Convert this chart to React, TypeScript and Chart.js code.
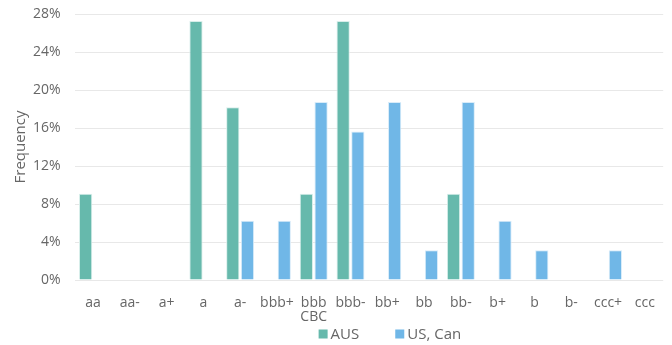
import React, { useEffect, useRef } from "react";
import { Chart, registerables } from "chart.js";

Chart.register(...registerables);

// Rating buckets along the x axis
const ratings: (string | string[])[] = [
  "aa", "aa-", "a+", "a", "a-", "bbb+", ["bbb", "CBC"], "bbb-",
  "bb+", "bb", "bb-", "b+", "b", "b-", "ccc+", "ccc",
];

// Share of issuers in each bucket (%)
const ausShare = [9.09, 0, 0, 27.27, 18.18, 0, 9.09, 27.27, 0, 0, 9.09, 0, 0, 0, 0, 0];
const usCanShare = [0, 0, 0, 0, 6.25, 6.25, 18.75, 15.625, 18.75, 3.125, 18.75, 6.25, 3.125, 0, 3.125, 0];

const seriesNames = ["AUS", "US, Can"];
const seriesColors = ["#66b9ac", "#70b7e7"];
const seriesBorders = ["#d8eeea", "#d9ecf9"];
const yTicks = [0, 4, 8, 12, 16, 20, 24, 28];

const FONT = "'Open Sans', sans-serif";

// Legend drawn under the axis labels, with wide spacing between entries
const bottomLegend = {
  id: "bottomLegend",
  afterDraw(chart: any) {
    const ctx = chart.ctx;
    const box = 9;
    const gap = 3;
    const spacing = 36;
    ctx.save();
    ctx.font = `15px ${FONT}`;
    ctx.textBaseline = "middle";
    const widths = seriesNames.map((n) => box + gap + ctx.measureText(n).width);
    const total = widths.reduce((a, b) => a + b, 0) + spacing * (widths.length - 1);
    const centerX = (chart.chartArea.left + chart.chartArea.right) / 2 + 21;
    const y = chart.height - 11;
    let x = centerX - total / 2;
    seriesNames.forEach((name, i) => {
      ctx.fillStyle = seriesColors[i];
      ctx.fillRect(x, y - box / 2, box, box);
      ctx.fillStyle = "#666";
      ctx.fillText(name, x + box + gap, y + 0.5);
      x += widths[i] + spacing;
    });
    ctx.restore();
  },
};

export default function App() {
  const canvasRef = useRef<HTMLCanvasElement | null>(null);

  useEffect(() => {
    document.body.style.margin = "0";
    const ctx = canvasRef.current;
    if (!ctx) return;
    const chart = new Chart(ctx, {
      type: "bar",
      data: {
        labels: ratings,
        datasets: [
          {
            label: seriesNames[0],
            data: ausShare,
            backgroundColor: seriesColors[0],
            borderColor: seriesBorders[0],
            borderWidth: 1,
          },
          {
            label: seriesNames[1],
            data: usCanShare,
            backgroundColor: seriesColors[1],
            borderColor: seriesBorders[1],
            borderWidth: 1,
          },
        ],
      },
      options: {
        animation: false,
        responsive: false,
        maintainAspectRatio: false,
        layout: { padding: { top: 14, right: 4, left: 9, bottom: 24 } },
        plugins: {
          tooltip: { enabled: false },
          legend: { display: false },
        },
        scales: {
          x: {
            grid: { display: false, drawTicks: false },
            border: { display: false },
            afterFit: (axis: any) => {
              axis.height = 41;
            },
            ticks: {
              color: "#666",
              font: { size: 14, family: FONT, lineHeight: 0.93 },
              maxRotation: 0,
              autoSkip: false,
              padding: 17,
            },
          },
          y: {
            min: 0,
            max: 28,
            afterBuildTicks: (axis: any) => {
              axis.ticks = yTicks.map((v) => ({ value: v }));
            },
            grid: {
              color: "#e8e8e8",
              lineWidth: 1,
              drawTicks: true,
              tickLength: 14,
              tickColor: "rgba(0,0,0,0)",
            },
            border: { display: false },
            ticks: {
              color: "#666",
              font: { size: 14, family: FONT },
              padding: 0,
              callback: (v: any) => v + "%",
            },
            title: {
              display: true,
              text: "Frequency",
              color: "#666",
              font: { size: 15, family: FONT },
              padding: 3,
            },
          },
        },
      },
      plugins: [bottomLegend],
    });
    return () => chart.destroy();
  }, []);

  return (
    <div style={{ width: 672, height: 345 }}>
      <canvas ref={canvasRef} width={672} height={345} />
    </div>
  );
}
